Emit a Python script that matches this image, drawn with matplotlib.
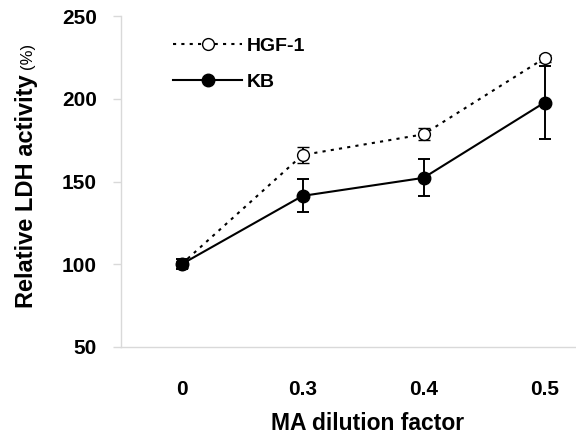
import matplotlib
matplotlib.use("Agg")
import matplotlib.pyplot as plt
from matplotlib.lines import Line2D

plt.rcParams['font.family'] = ['Liberation Sans', 'DejaVu Sans']

categories = ["0", "0.3", "0.4", "0.5"]
hgf_values = [100, 166, 178.5, 224.5]
hgf_err = [2, 4.8, 3.7, 2]
kb_values = [100, 141.3, 152.2, 197.7]
kb_err = [3, 10, 11.2, 22]
series_labels = ["HGF-1", "KB"]
y_ticks = [50, 100, 150, 200, 250]

W, H = 576, 436
fig = plt.figure(figsize=(W / 100, H / 100), dpi=100)
ax_left, ax_right, ax_top, ax_bottom = 121, 605, 16, 347
ax = fig.add_axes([ax_left / W, 1 - ax_bottom / H, (ax_right - ax_left) / W, (ax_bottom - ax_top) / H])

x = list(range(len(categories)))

hgf_style = dict(color='black', linestyle=(0, (1.5, 2.5)), lw=1.5, marker='o', markersize=8.5,
                 markerfacecolor='white', markeredgecolor='black', markeredgewidth=1.0)
kb_style = dict(color='black', linestyle='-', lw=1.5, marker='o', markersize=9,
                markerfacecolor='black', markeredgecolor='black')

ax.errorbar(x, hgf_values, yerr=hgf_err, elinewidth=1.4, capsize=4.3, capthick=1.4,
            zorder=3, **hgf_style)
ax.errorbar(x, kb_values, yerr=kb_err, elinewidth=1.4, capsize=4.3, capthick=1.4,
            zorder=4, **kb_style)

ax.set_xlim(-0.5, len(categories) - 0.5)
ax.set_ylim(50, 250)
ax.set_xticks(x)
ax.set_xticklabels(categories)
ax.set_yticks(y_ticks)

for s in ['top', 'right']:
    ax.spines[s].set_visible(False)
for s in ['left', 'bottom']:
    ax.spines[s].set_color('#d9d9d9')
    ax.spines[s].set_linewidth(1.0)

ax.tick_params(axis='y', length=5.8, width=1.0, color='#d9d9d9', direction='out', pad=11.5,
               labelsize=15)
ax.tick_params(axis='x', length=0, pad=23.5, labelsize=15)
for lab in ax.get_xticklabels() + ax.get_yticklabels():
    lab.set_fontweight('bold')

fig.text(368 / W, 1 - 435 / H, "MA dilution factor", ha='center', va='bottom',
         fontsize=16.5, fontweight='bold')

fig.text(33 / W, 1 - 308 / H, "Relative LDH activity", rotation=90, rotation_mode='anchor',
         ha='left', va='baseline', fontsize=17, fontweight='bold')
fig.text(32 / W, 1 - 43 / H, "(%)", rotation=90, rotation_mode='anchor',
         ha='right', va='baseline', fontsize=12)

handles = [Line2D([], [], **hgf_style), Line2D([], [], **kb_style)]
leg = ax.legend(handles, series_labels, loc='upper left', bbox_to_anchor=(173 / W, 1 - 37 / H),
                bbox_transform=fig.transFigure, frameon=False, fontsize=14, handlelength=3.55,
                handletextpad=0.26, labelspacing=0.94, borderpad=0, borderaxespad=0, numpoints=1)
for t in leg.get_texts():
    t.set_fontweight('bold')

fig.savefig("out.png", dpi=100)
